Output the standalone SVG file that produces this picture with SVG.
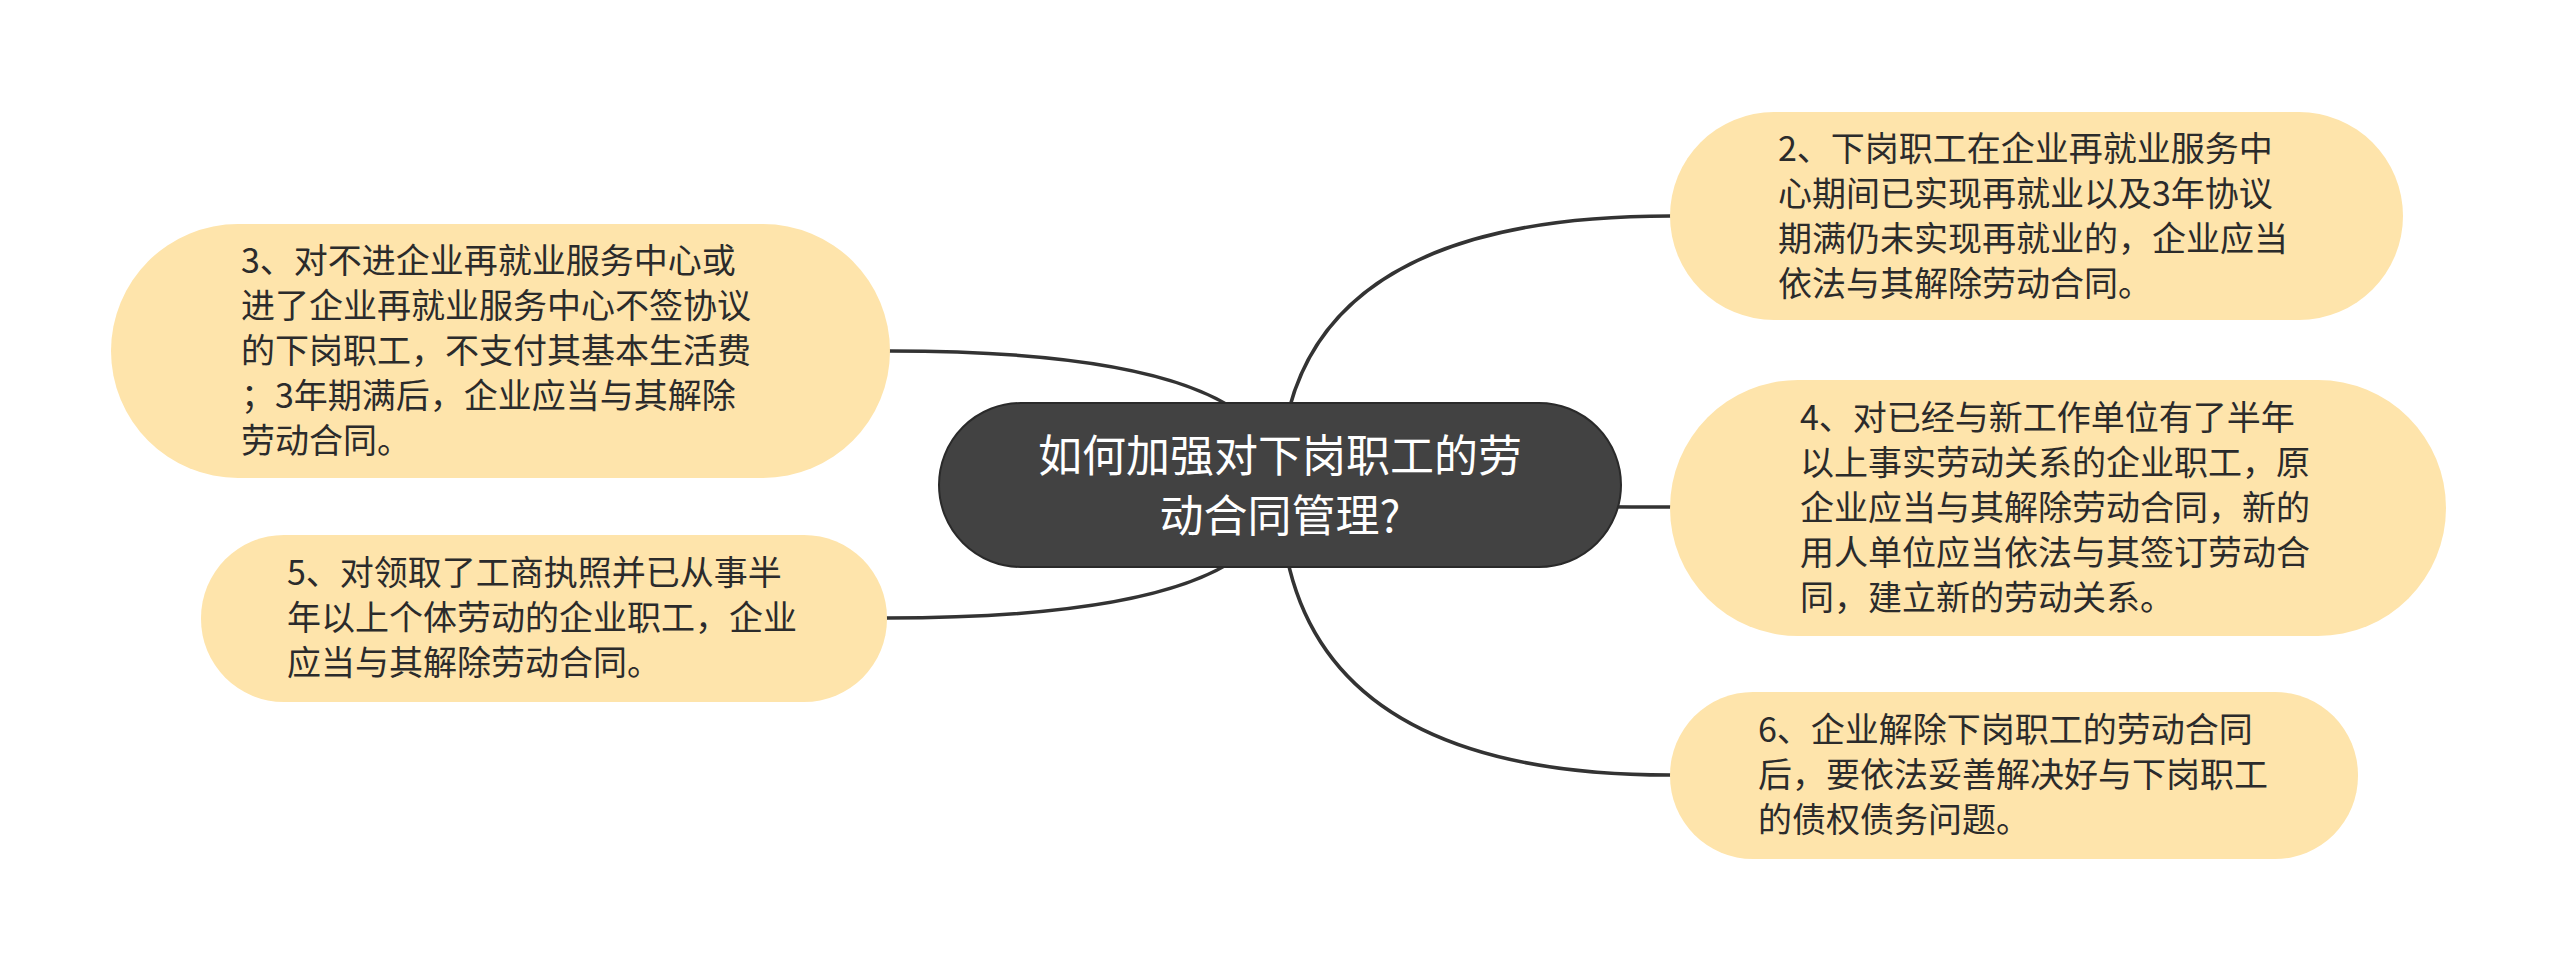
<svg xmlns="http://www.w3.org/2000/svg" width="2560" height="971" viewBox="0 0 2560 971">
<style>
.bg{fill:#ffffff}
.conn{fill:none;stroke:#333333;stroke-width:3.5;stroke-linecap:round}
.leaf{fill:#FEE4AB;stroke:none}
.root{fill:#424242;stroke:#2a2a2a;stroke-width:2}
.lt{font-family:"Noto Sans CJK SC","Noto Sans",sans-serif;font-size:34px;fill:#2b2b2b}
.rt{font-family:"Noto Sans CJK SC","Noto Sans",sans-serif;font-size:44px;fill:#ffffff;text-anchor:middle}
</style>
<rect class="bg" x="0" y="0" width="2560" height="971"/>
<g id="connectors">
<path class="conn" d="M1280,485 Q1280,216 1670,216"/>
<path class="conn" d="M1280,485 Q1280,507 1672,507"/>
<path class="conn" d="M1280,485 Q1280,775 1670,775"/>
<path class="conn" d="M1280,485 Q1280,351 890,351"/>
<path class="conn" d="M1280,485 Q1280,618 887,618"/>
</g>
<g id="root">
<rect class="root" x="939" y="403" width="682" height="164" rx="82" ry="82"/>
<text class="rt" x="1280" y="472">如何加强对下岗职工的劳</text>
<text class="rt" x="1280" y="532">动合同管理?</text>
</g>
<g id="node2">
<rect class="leaf" x="1670" y="112" width="733" height="208" rx="104" ry="104"/>
<text class="lt" x="1778" y="161">2、下岗职工在企业再就业服务中</text>
<text class="lt" x="1778" y="206">心期间已实现再就业以及3年协议</text>
<text class="lt" x="1778" y="251">期满仍未实现再就业的，企业应当</text>
<text class="lt" x="1778" y="296">依法与其解除劳动合同。</text>
</g>
<g id="node4">
<rect class="leaf" x="1670" y="380" width="776" height="256" rx="128" ry="128"/>
<text class="lt" x="1800" y="430">4、对已经与新工作单位有了半年</text>
<text class="lt" x="1800" y="475">以上事实劳动关系的企业职工，原</text>
<text class="lt" x="1800" y="520">企业应当与其解除劳动合同，新的</text>
<text class="lt" x="1800" y="565">用人单位应当依法与其签订劳动合</text>
<text class="lt" x="1800" y="610">同，建立新的劳动关系。</text>
</g>
<g id="node6">
<rect class="leaf" x="1670" y="692" width="688" height="167" rx="83" ry="83"/>
<text class="lt" x="1758" y="742">6、企业解除下岗职工的劳动合同</text>
<text class="lt" x="1758" y="787">后，要依法妥善解决好与下岗职工</text>
<text class="lt" x="1758" y="832">的债权债务问题。</text>
</g>
<g id="node3">
<rect class="leaf" x="111" y="224" width="779" height="254" rx="127" ry="127"/>
<text class="lt" x="241" y="273">3、对不进企业再就业服务中心或</text>
<text class="lt" x="241" y="318">进了企业再就业服务中心不签协议</text>
<text class="lt" x="241" y="363">的下岗职工，不支付其基本生活费</text>
<text class="lt" x="241" y="408">；3年期满后，企业应当与其解除</text>
<text class="lt" x="241" y="453">劳动合同。</text>
</g>
<g id="node5">
<rect class="leaf" x="201" y="535" width="686" height="167" rx="83" ry="83"/>
<text class="lt" x="287" y="585">5、对领取了工商执照并已从事半</text>
<text class="lt" x="287" y="630">年以上个体劳动的企业职工，企业</text>
<text class="lt" x="287" y="675">应当与其解除劳动合同。</text>
</g>
</svg>
